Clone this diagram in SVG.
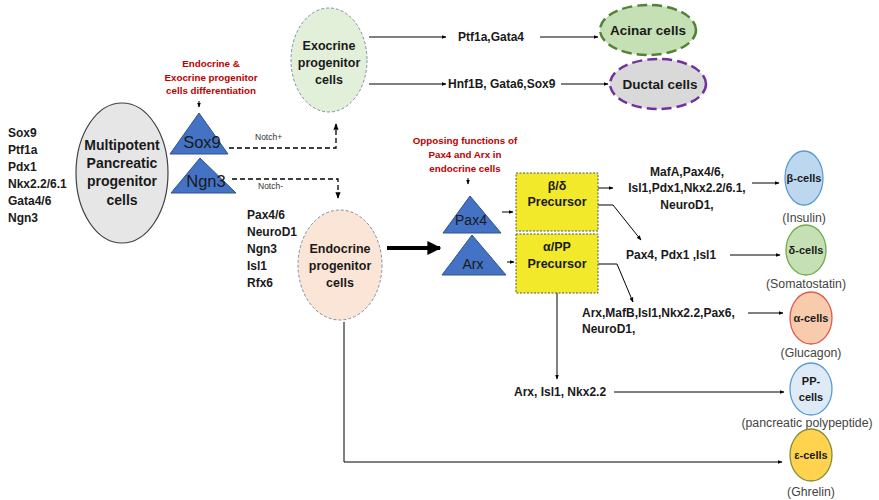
<svg xmlns="http://www.w3.org/2000/svg" width="879" height="500" viewBox="0 0 879 500">
<defs>
<marker id="ah" viewBox="0 0 10 10" refX="9" refY="5" markerWidth="5" markerHeight="5" orient="auto"><path d="M0,1 L10,5 L0,9 z" fill="#000"/></marker>
<marker id="ahb" viewBox="0 0 10 10" refX="9" refY="5" markerWidth="3.5" markerHeight="3.5" orient="auto"><path d="M0,0 L10,5 L0,10 z" fill="#000"/></marker>
<style>
text{font-family:"Liberation Sans",Arial,sans-serif;fill:#1a1a1a}
.b{font-weight:bold}
.m{text-anchor:middle}
.l12{font-size:12px;font-weight:bold}
.red{fill:#c00000;font-size:9.8px;font-weight:bold;text-anchor:middle}
.sm{font-size:8.5px;fill:#333}
.par{font-size:12.3px;fill:#444;text-anchor:middle}
.cell{font-size:11px;font-weight:bold;text-anchor:middle}
.tri{fill:#4472c4;stroke:#2f528f;stroke-width:1}
.ln{stroke:#000;stroke-width:1;fill:none}
.dsh{stroke:#000;stroke-width:1.3;fill:none;stroke-dasharray:5,3}
</style>
</defs>
<rect width="879" height="500" fill="#fff"/>

<g id="connectors">
<polyline class="dsh" points="229,148 336,148 336,124" marker-end="url(#ah)"/>
<polyline class="dsh" points="232,179 338,179 338,198" marker-end="url(#ah)"/>
<line class="ln" x1="369" y1="37" x2="446" y2="37" marker-end="url(#ah)"/>
<line class="ln" x1="540" y1="37" x2="598" y2="37" marker-end="url(#ah)"/>
<line class="ln" x1="369" y1="84" x2="446" y2="84" marker-end="url(#ah)"/>
<line class="ln" x1="561" y1="84" x2="608" y2="84" marker-end="url(#ah)"/>
<line x1="387" y1="248" x2="440" y2="248" stroke="#000" stroke-width="4" marker-end="url(#ahb)"/>
<line class="ln" x1="199" y1="101" x2="199" y2="107" marker-end="url(#ah)"/>
<line class="ln" x1="468" y1="178" x2="468" y2="184" marker-end="url(#ah)"/>
<line class="ln" x1="502" y1="212" x2="513" y2="212" marker-end="url(#ah)"/>
<line class="ln" x1="507" y1="262" x2="514" y2="262" marker-end="url(#ah)"/>
<line class="ln" x1="598" y1="188" x2="613" y2="188" marker-end="url(#ah)"/>
<polyline class="ln" points="598,205 613,205 641,240" marker-end="url(#ah)"/>
<polyline class="ln" points="598,264 617,264 633,302" marker-end="url(#ah)"/>
<line class="ln" x1="557" y1="293" x2="557" y2="379" marker-end="url(#ah)"/>
<line class="ln" x1="752" y1="183" x2="779" y2="183" marker-end="url(#ah)"/>
<line class="ln" x1="730" y1="255" x2="780" y2="255" marker-end="url(#ah)"/>
<line class="ln" x1="748" y1="313" x2="783" y2="313" marker-end="url(#ah)"/>
<line class="ln" x1="614" y1="392" x2="784" y2="392" marker-end="url(#ah)"/>
<polyline class="ln" points="344,322 344,462 782,462" marker-end="url(#ah)"/>
</g>

<g id="markers-left">
<text class="l12" x="8" y="137">Sox9</text>
<text class="l12" x="8" y="154">Ptf1a</text>
<text class="l12" x="8" y="171">Pdx1</text>
<text class="l12" x="8" y="188">Nkx2.2/6.1</text>
<text class="l12" x="8" y="205">Gata4/6</text>
<text class="l12" x="8" y="222">Ngn3</text>
</g>

<g id="multipotent">
<ellipse cx="122" cy="173" rx="46" ry="70" fill="#e7e6e6" stroke="#404040" stroke-width="1.2"/>
<text class="b m" font-size="14" x="122" y="150">Multipotent</text>
<text class="b m" font-size="14" x="122" y="168">Pancreatic</text>
<text class="b m" font-size="14" x="122" y="186">progenitor</text>
<text class="b m" font-size="14" x="122" y="205">cells</text>
</g>

<g id="label-diff">
<text class="red" x="211" y="67">Endocrine &amp;</text>
<text class="red" x="211" y="81">Exocrine progenitor</text>
<text class="red" x="211" y="94">cells differentiation</text>
</g>

<g id="sox9">
<polygon class="tri" points="199,113 170,154 228,154"/>
<text class="m" font-size="16.5" x="202" y="148">Sox9</text>
</g>
<g id="ngn3">
<polygon class="tri" points="200,158 171,193 236,193"/>
<text class="m" font-size="16.5" x="206" y="187">Ngn3</text>
</g>
<text class="sm" x="255" y="140">Notch+</text>
<text class="sm" x="258" y="189">Notch-</text>

<g id="exocrine">
<ellipse cx="329" cy="60" rx="38" ry="52" fill="#e2efd9" stroke="#7f8fa6" stroke-width="1" stroke-dasharray="3,2"/>
<text class="b m" font-size="12.5" x="329" y="50">Exocrine</text>
<text class="b m" font-size="12.5" x="329" y="67">progenitor</text>
<text class="b m" font-size="12.5" x="329" y="84">cells</text>
</g>

<text class="l12" x="458" y="41">Ptf1a,Gata4</text>
<text class="l12" x="448" y="88">Hnf1B, Gata6,Sox9</text>

<g id="acinar">
<ellipse cx="648" cy="30" rx="48" ry="25" fill="#c5e0b4" stroke="#548235" stroke-width="2.5" stroke-dasharray="10,5"/>
<text class="b m" font-size="13.5" x="648" y="35">Acinar cells</text>
</g>
<g id="ductal">
<ellipse cx="658" cy="84" rx="48" ry="25" fill="#d9d9d9" stroke="#7030a0" stroke-width="2.5" stroke-dasharray="10,5"/>
<text class="b m" font-size="13.5" x="660" y="89">Ductal cells</text>
</g>

<g id="markers-endo">
<text class="l12" x="247" y="219">Pax4/6</text>
<text class="l12" x="247" y="236">NeuroD1</text>
<text class="l12" x="247" y="253">Ngn3</text>
<text class="l12" x="247" y="270">Isl1</text>
<text class="l12" x="247" y="287">Rfx6</text>
</g>

<g id="endocrine">
<ellipse cx="340" cy="265" rx="42" ry="55" fill="#fbe5d6" stroke="#7f8fa6" stroke-width="1" stroke-dasharray="3,2"/>
<text class="b m" font-size="12.5" x="340" y="253">Endocrine</text>
<text class="b m" font-size="12.5" x="340" y="270">progenitor</text>
<text class="b m" font-size="12.5" x="340" y="287">cells</text>
</g>

<g id="label-opposing">
<text class="red" font-size="10.3" x="465" y="144">Opposing functions of</text>
<text class="red" font-size="10.3" x="465" y="158">Pax4 and Arx in</text>
<text class="red" font-size="10.3" x="465" y="172">endocrine cells</text>
</g>

<g id="pax4">
<polygon class="tri" points="470,196 443,233 501,233"/>
<text class="m" font-size="14" x="471" y="225">Pax4</text>
</g>
<g id="arx">
<polygon class="tri" points="472,235 442,275 506,275"/>
<text class="m" font-size="14" x="473" y="269">Arx</text>
</g>

<g id="beta-delta-precursor">
<rect x="516" y="173" width="82" height="58" fill="#f2e92b" stroke="#555" stroke-width="1" stroke-dasharray="2,1.5"/>
<text class="b m" font-size="12.5" x="557" y="190">β/δ</text>
<text class="b m" font-size="12.5" x="557" y="206">Precursor</text>
</g>
<g id="alpha-pp-precursor">
<rect x="516" y="234" width="82" height="59" fill="#f2e92b" stroke="#555" stroke-width="1" stroke-dasharray="2,1.5"/>
<text class="b m" font-size="12.5" x="557" y="251">α/PP</text>
<text class="b m" font-size="12.5" x="557" y="268">Precursor</text>
</g>

<g id="beta-factors">
<text class="l12 m" x="687" y="176">MafA,Pax4/6,</text>
<text class="l12 m" x="687" y="192">Isl1,Pdx1,Nkx2.2/6.1,</text>
<text class="l12 m" x="687" y="209">NeuroD1,</text>
</g>
<text class="l12" x="626" y="259">Pax4, Pdx1 ,Isl1</text>
<text class="l12" x="582" y="317">Arx,MafB,Isl1,Nkx2.2,Pax6,</text>
<text class="l12" x="582" y="333">NeuroD1,</text>
<text class="l12" x="514" y="396">Arx, Isl1, Nkx2.2</text>

<g id="beta-cells">
<ellipse cx="804" cy="178" rx="19" ry="27" fill="#bdd7ee" stroke="#5b9bd5" stroke-width="1.3"/>
<text class="cell" x="804" y="182">β-cells</text>
<text class="par" x="804" y="222">(Insulin)</text>
</g>
<g id="delta-cells">
<ellipse cx="806" cy="250" rx="20" ry="25" fill="#c5e0b4" stroke="#70ad47" stroke-width="1.3"/>
<text class="cell" x="806" y="254">δ-cells</text>
<text class="par" x="806" y="288">(Somatostatin)</text>
</g>
<g id="alpha-cells">
<ellipse cx="811" cy="318" rx="21" ry="26" fill="#f8cbad" stroke="#e05a4a" stroke-width="1.3"/>
<text class="cell" x="811" y="322">α-cells</text>
<text class="par" x="811" y="357">(Glucagon)</text>
</g>
<g id="pp-cells">
<ellipse cx="811" cy="389" rx="21" ry="26" fill="#deebf7" stroke="#5b9bd5" stroke-width="1.3"/>
<text class="cell" x="811" y="385">PP-</text>
<text class="cell" x="811" y="401">cells</text>
<text class="par" x="807" y="427">(pancreatic polypeptide)</text>
</g>
<g id="epsilon-cells">
<ellipse cx="811" cy="455" rx="21" ry="26" fill="#ffd34d" stroke="#7f8f3a" stroke-width="1.3"/>
<text class="cell" x="811" y="459">ε-cells</text>
<text class="par" x="811" y="496">(Ghrelin)</text>
</g>
</svg>
